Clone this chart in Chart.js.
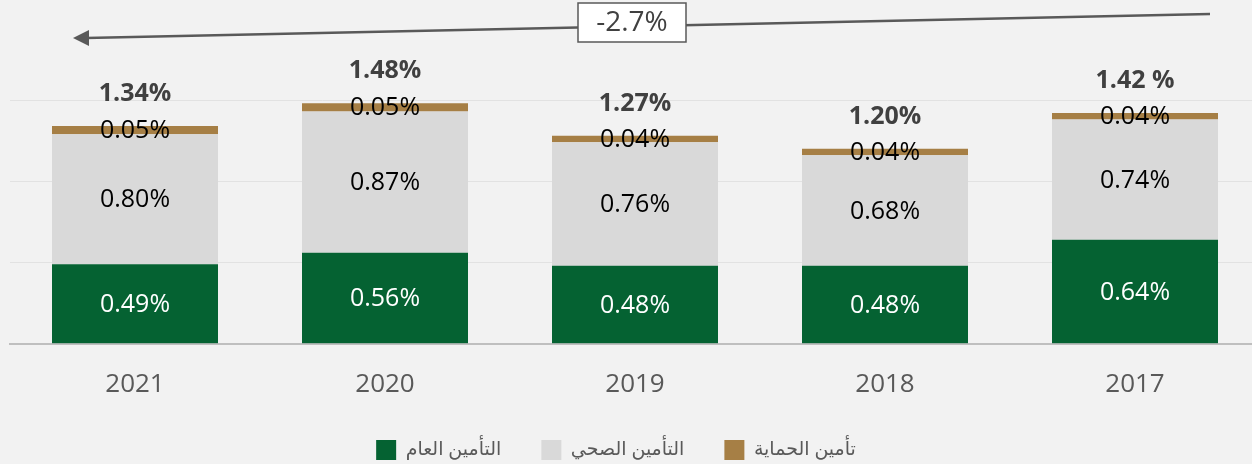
<!DOCTYPE html>
<html>
<head>
<meta charset="utf-8">
<script src="https://cdn.jsdelivr.net/npm/chart.js@4/dist/chart.umd.min.js"></script>
<style>
  html, body { margin: 0; padding: 0; background: #f2f2f2; overflow: hidden; }
  #wrap { width: 1260px; height: 464px; }
</style>
</head>
<body>
<div id="wrap"><canvas id="chart"></canvas></div>
<script>
const years = ['2021', '2020', '2019', '2018', '2017'];
const generalIns = [0.49, 0.56, 0.48, 0.48, 0.64];
const healthIns = [0.80, 0.87, 0.76, 0.68, 0.74];
const protectionIns = [0.05, 0.05, 0.04, 0.04, 0.04];
const totalLabels = ['1.34%', '1.48%', '1.27%', '1.20%', '1.42 %'];
const seriesNames = ['التأمين العام', 'التأمين الصحي', 'تأمين الحماية'];
const changeLabel = '-2.7%';

const FONT = '"Open Sans", "DejaVu Sans", sans-serif';

// labels inside segments + totals above the stacks
const labelPlugin = {
    id: 'labels',
    afterLayout(chart) {
        // legend sits a little left of centre in the original
        chart.legend.left -= 19;
        chart.legend.right -= 19;
    },
    afterDatasetsDraw(chart) {
        const ctx = chart.ctx;
        ctx.save();
        ctx.textAlign = 'center';
        ctx.textBaseline = 'middle';
        ctx.font = '25px ' + FONT;
        const colors = ['#ffffff', '#000000', '#000000'];
        chart.data.datasets.forEach((ds, i) => {
            const meta = chart.getDatasetMeta(i);
            ctx.fillStyle = colors[i];
            meta.data.forEach((bar, j) => {
                const mid = (bar.y + bar.base) / 2;
                ctx.fillText(ds.data[j].toFixed(2) + '%', bar.x, mid + 1);
            });
        });
        const top = chart.getDatasetMeta(2).data;
        ctx.font = 'bold 25px ' + FONT;
        ctx.fillStyle = '#404040';
        top.forEach((bar, j) => {
            ctx.fillText(totalLabels[j], bar.x, bar.y - 32);
        });
        ctx.restore();
    },
    afterDraw(chart) {
        // trend arrow with the change box
        const ctx = chart.ctx;
        ctx.save();
        ctx.strokeStyle = '#595959';
        ctx.fillStyle = '#595959';
        ctx.lineWidth = 2.5;
        ctx.beginPath();
        ctx.moveTo(1210, 14);
        ctx.lineTo(86, 38);
        ctx.stroke();
        ctx.beginPath();
        ctx.moveTo(73, 38);
        ctx.lineTo(89, 30);
        ctx.lineTo(89, 46);
        ctx.closePath();
        ctx.fill();

        ctx.fillStyle = '#ffffff';
        ctx.fillRect(578, 3, 108, 39);
        ctx.lineWidth = 1.5;
        ctx.strokeRect(578, 3, 108, 39);
        ctx.fillStyle = '#404040';
        ctx.font = '28px ' + FONT;
        ctx.textAlign = 'center';
        ctx.textBaseline = 'middle';
        ctx.fillText(changeLabel, 632, 23);
        ctx.restore();
    }
};

new Chart(document.getElementById('chart'), {
    type: 'bar',
    data: {
        labels: years,
        datasets: [
            { label: seriesNames[0], data: generalIns, backgroundColor: '#056232' },
            { label: seriesNames[1], data: healthIns, backgroundColor: '#d9d9d9' },
            { label: seriesNames[2], data: protectionIns, backgroundColor: '#a67f45' }
        ]
    },
    options: {
        responsive: true,
        maintainAspectRatio: false,
        animation: false,
        datasets: { bar: { categoryPercentage: 1, barPercentage: 0.664 } },
        layout: { padding: { top: 100, left: 10, right: 0, bottom: -6 } },
        scales: {
            x: {
                stacked: true,
                grid: { display: false },
                border: { display: true, color: '#bfbfbf', width: 2 },
                ticks: { color: '#595959', font: { family: FONT, size: 26 }, padding: 17 },
                afterFit(scale) { scale.height -= 17; }
            },
            y: {
                stacked: true,
                min: 0,
                max: 1.5,
                grid: { color: '#e2e2e2', drawTicks: false },
                border: { display: false },
                ticks: { display: false, stepSize: 0.5 }
            }
        },
        plugins: {
            tooltip: { enabled: false },
            legend: {
                position: 'bottom',
                labels: {
                    color: '#595959',
                    font: { family: FONT, size: 19, lineHeight: 27.6 / 19 },
                    boxWidth: 20,
                    boxHeight: 20,
                    padding: 40
                }
            }
        }
    },
    plugins: [labelPlugin]
});
</script>
</body>
</html>
